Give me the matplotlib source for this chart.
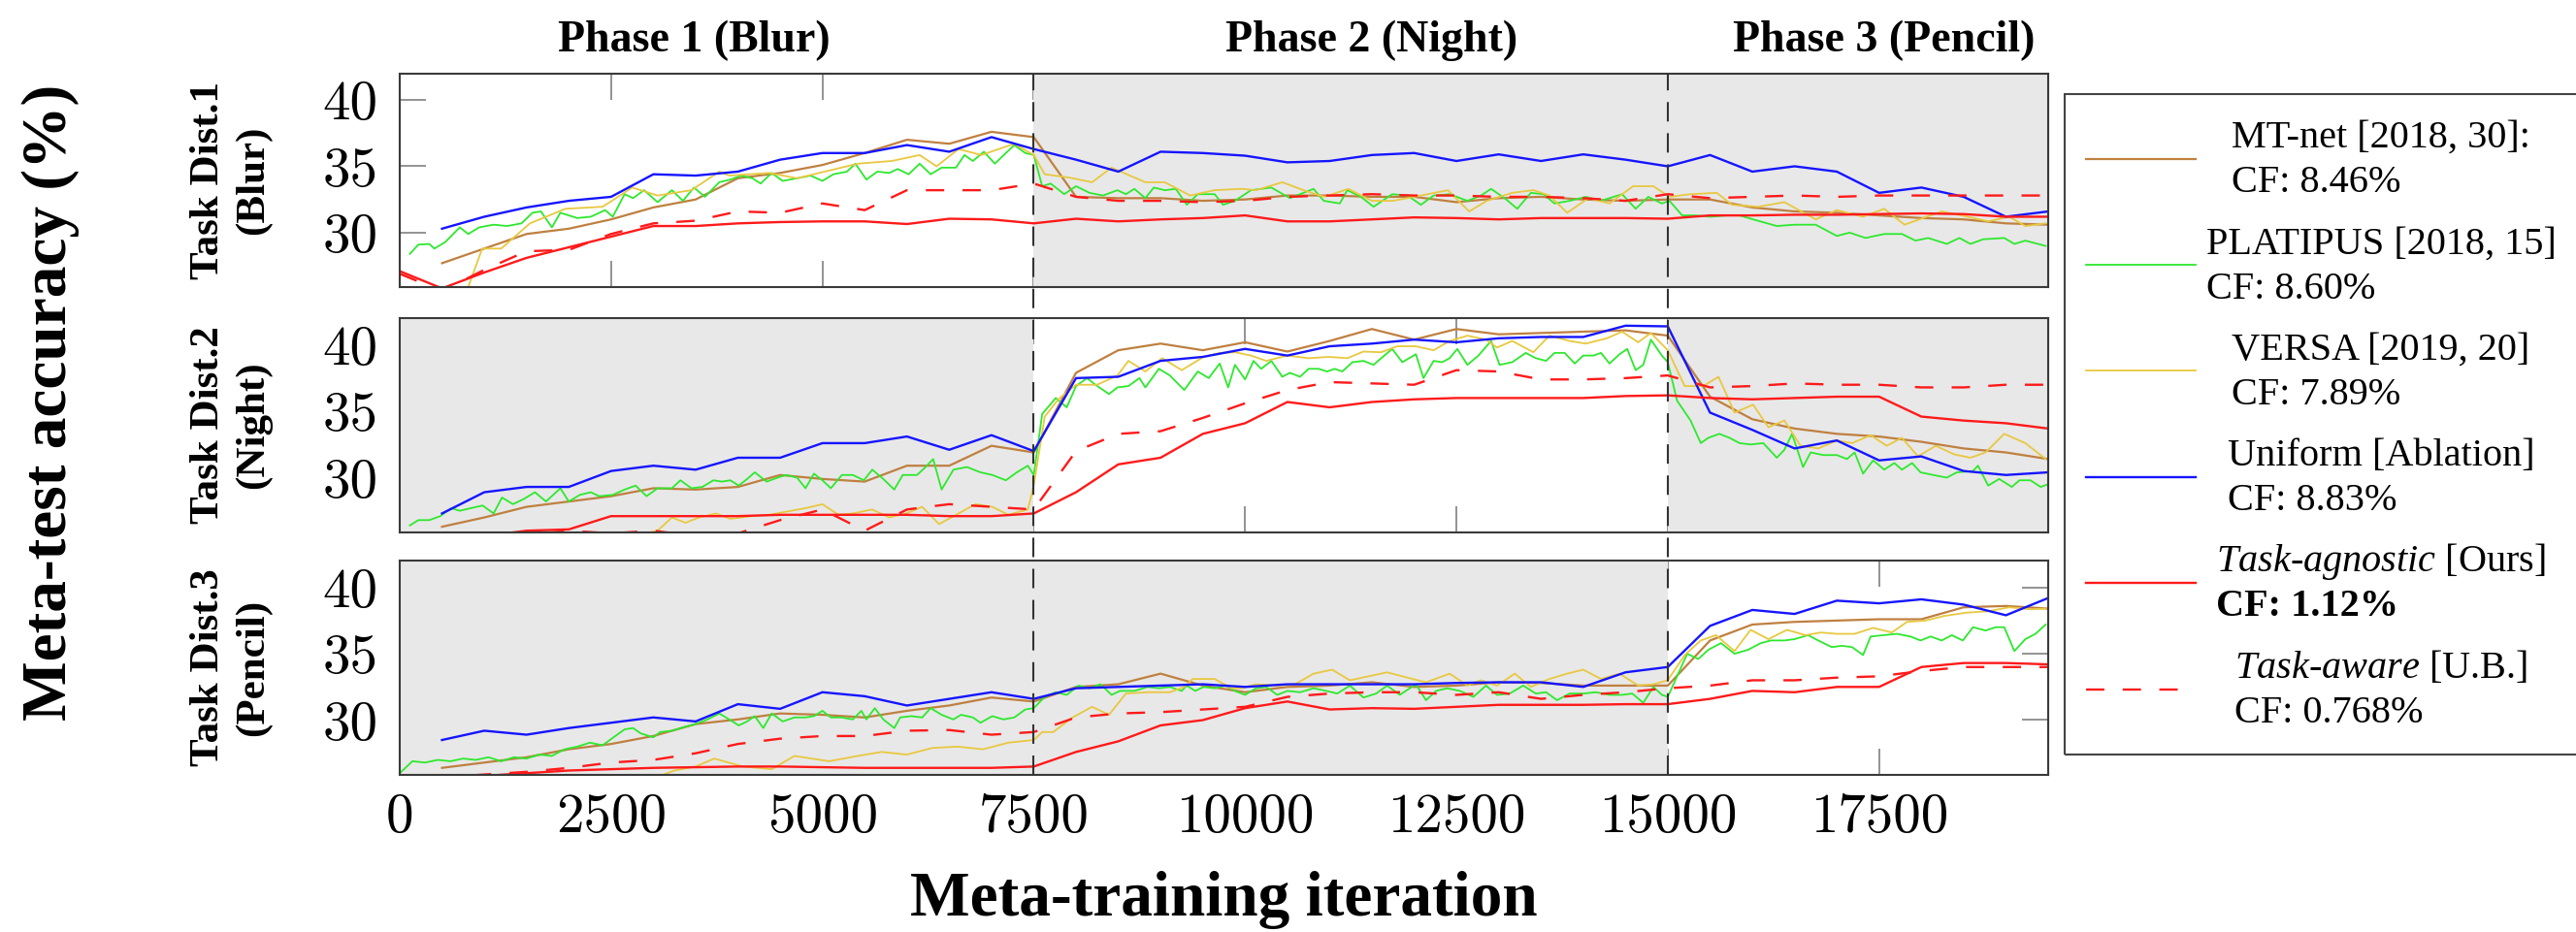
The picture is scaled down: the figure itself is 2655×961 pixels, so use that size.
import matplotlib
matplotlib.use("Agg")
import matplotlib.pyplot as plt
from matplotlib.lines import Line2D
from matplotlib.patches import Rectangle
from matplotlib.transforms import blended_transform_factory

plt.rcParams['font.family'] = ['Liberation Serif', 'DejaVu Serif']
plt.rcParams['mathtext.fontset'] = 'custom'
plt.rcParams['mathtext.rm'] = 'Liberation Serif'
plt.rcParams['mathtext.it'] = 'Liberation Serif:italic'
plt.rcParams['mathtext.bf'] = 'Liberation Serif:bold'

# ---------------- data ----------------
ITER = [500, 1000, 1500, 2000, 2500, 3000, 3500, 4000, 4500, 5000, 5500, 6000, 6500,
        7000, 7500, 8000, 8500, 9000, 9500, 10000, 10500, 11000, 11500, 12000, 12500,
        13000, 13500, 14000, 14500, 15000, 15500, 16000, 16500, 17000, 17500, 18000,
        18500, 19000, 19500]
ITER0 = [0] + ITER

PHASE_BOUNDS = [0, 7500, 15000, 19500]
PHASE_TITLES = ["Phase 1 (Blur)", "Phase 2 (Night)", "Phase 3 (Pencil)"]
PHASE_TITLE_X = [3480, 11500, 17560]
ROW_LABELS = ["Task Dist.1\n(Blur)", "Task Dist.2\n(Night)", "Task Dist.3\n(Pencil)"]
X_TICKS = [0, 2500, 5000, 7500, 10000, 12500, 15000, 17500]
Y_TICKS = [30, 35, 40]

# ---- Task Dist.1 ----
P1_UNIFORM = [30.3, 31.2, 31.9, 32.4, 32.7, 34.4, 34.3, 34.6, 35.5, 36.0, 36.0, 36.6, 36.1,
              37.2, 36.3, 35.5, 34.6, 36.1, 36.0, 35.8, 35.3, 35.4, 35.85, 36.0, 35.4,
              35.9, 35.4, 35.9, 35.5, 35.0, 35.85, 34.6, 35.0, 34.6, 33.0, 33.4, 32.7,
              31.2, 31.6]
P1_MTNET = [27.7, 28.8, 29.9, 30.3, 31.0, 31.9, 32.5, 34.1, 34.5, 35.1, 36.0, 37.0, 36.7,
            37.6, 37.2, 32.7, 32.6, 32.6, 32.4, 32.5, 32.8, 32.8, 32.7, 32.7, 32.3,
            32.6, 32.7, 32.5, 32.4, 32.5, 32.5, 31.9, 31.6, 31.5, 31.3, 31.1, 31.0,
            30.7, 30.6]
P1_AGNOSTIC = [27.1, 25.8, 27.0, 28.1, 28.9, 29.7, 30.5, 30.5, 30.7, 30.8, 30.85, 30.85, 30.65,
               31.05, 31.0, 30.7, 31.05, 30.85, 31.0, 31.1, 31.3, 30.85, 30.85, 31.0, 31.15,
               31.1, 31.0, 31.1, 31.1, 31.1, 31.05, 31.3, 31.3, 31.35, 31.35, 31.4, 31.45,
               31.4, 31.2, 31.2]
P1_AWARE = [26.9, 25.6, 27.2, 28.6, 28.7, 29.9, 30.7, 30.9, 31.6, 31.5, 32.2, 31.7, 33.2,
            33.2, 33.2, 33.7, 32.7, 32.4, 32.4, 32.3, 32.4, 32.7, 32.8, 32.9, 32.8,
            32.8, 32.7, 32.7, 32.6, 32.4, 32.9, 32.6, 32.7, 32.8, 32.7, 32.8, 32.8,
            32.8, 32.8, 32.8]
P1_VERSA = [(810, 25.9), (975, 28.8), (1200, 28.8), (1540, 30.7), (1960, 31.8), (2400, 31.95),
            (2750, 33.4), (3050, 32.8), (3450, 33.2), (3780, 34.6), (3900, 34.3), (4370, 34.5),
            (4700, 34.1), (4960, 34.5), (5420, 35.2), (5820, 35.4), (6150, 35.85), (6350, 35.0),
            (6610, 36.3), (6880, 35.85), (7270, 36.7), (7500, 35.85), (7630, 34.4), (7920, 34.15),
            (8190, 33.8), (8420, 34.9), (8820, 33.8), (9050, 33.8), (9350, 32.8), (9640, 33.2),
            (9960, 33.3), (10130, 33.2), (10440, 33.8), (10690, 33.2), (10940, 32.7), (11220, 33.3),
            (11500, 32.4), (11750, 32.4), (12000, 32.7), (12400, 33.2), (12650, 31.6), (12860, 32.4),
            (13160, 33.0), (13410, 33.2), (13600, 32.8), (13810, 31.5), (14060, 32.6), (14310, 32.2),
            (14590, 33.5), (14830, 33.5), (15020, 32.7), (15270, 32.9), (15580, 33.0), (15760, 32.1),
            (16070, 31.95), (16380, 32.3), (16750, 31.0), (17000, 31.7), (17310, 31.2), (17560, 31.8),
            (17800, 30.6), (18240, 31.6), (18550, 31.2), (18790, 30.85), (19040, 31.2), (19230, 30.5),
            (19470, 30.7)]
P1_PLATIPUS = [(120, 28.4), (220, 29.1), (350, 29.15), (410, 28.8), (540, 29.3), (710, 30.4),
               (810, 29.9), (940, 30.4), (1110, 30.6), (1270, 30.5), (1440, 30.7), (1570, 31.5),
               (1670, 31.6), (1800, 30.4), (1900, 31.5), (2100, 31.1), (2260, 31.2), (2430, 31.7),
               (2520, 31.2), (2660, 32.9), (2760, 32.6), (2890, 33.2), (3050, 32.3), (3220, 33.2),
               (3350, 32.4), (3480, 33.4), (3610, 32.7), (3780, 33.8), (3910, 34.0), (4040, 34.3),
               (4170, 34.1), (4270, 33.7), (4400, 34.5), (4530, 33.9), (4700, 34.1), (4860, 34.3),
               (5000, 33.9), (5130, 34.4), (5290, 34.6), (5390, 35.2), (5520, 34.0), (5650, 34.6),
               (5790, 34.5), (5890, 34.8), (6020, 34.4), (6150, 35.2), (6280, 34.4), (6410, 34.9),
               (6580, 34.9), (6680, 35.85), (6780, 35.4), (6910, 36.1), (7040, 35.2), (7170, 36.0),
               (7270, 36.6), (7400, 36.0), (7500, 35.85), (7600, 33.5), (7700, 33.7), (7860, 32.9),
               (8000, 33.5), (8160, 33.0), (8320, 32.8), (8490, 33.2), (8590, 32.9), (8690, 33.3),
               (8820, 32.6), (8920, 33.4), (9050, 33.2), (9180, 33.3), (9310, 32.1), (9440, 32.9),
               (9640, 32.9), (9740, 32.1), (9880, 32.4), (10070, 33.2), (10310, 33.4), (10530, 32.6),
               (10810, 33.3), (10930, 32.4), (11120, 32.2), (11210, 33.2), (11370, 32.7), (11520, 31.95),
               (11740, 32.9), (11920, 32.8), (12080, 32.1), (12230, 32.8), (12420, 32.9), (12630, 32.4),
               (12790, 32.8), (12910, 33.3), (13070, 32.6), (13220, 31.8), (13380, 33.0), (13530, 32.9),
               (13660, 32.2), (13840, 32.4), (14030, 32.7), (14210, 32.4), (14460, 32.9), (14620, 31.8),
               (14770, 32.7), (14930, 32.2), (15020, 32.4), (15170, 31.3), (15330, 31.3), (15510, 31.2),
               (15700, 31.3), (15850, 31.3), (16010, 31.0), (16290, 30.5), (16500, 30.6), (16750, 30.6),
               (17000, 29.75), (17150, 30.0), (17340, 29.6), (17560, 29.9), (17770, 29.9), (17930, 29.4),
               (18080, 29.6), (18300, 29.15), (18450, 29.6), (18580, 29.15), (18730, 29.5), (18980, 29.6),
               (19100, 29.15), (19230, 29.4), (19470, 29.0)]

# ---- Task Dist.2 ----
P2_UNIFORM = [27.3, 28.9, 29.3, 29.3, 30.5, 30.9, 30.6, 31.5, 31.5, 32.6, 32.6, 33.1, 32.1,
              33.2, 32.0, 37.5, 37.6, 38.8, 39.1, 39.7, 39.2, 39.9, 40.1, 40.4, 40.2,
              40.5, 40.6, 40.6, 41.45, 41.4, 34.9, 33.6, 32.2, 32.8, 31.3, 31.6, 30.5,
              30.2, 30.4]
P2_MTNET = [26.3, 27.0, 27.8, 28.2, 28.6, 29.2, 29.1, 29.3, 30.2, 29.9, 29.7, 30.9, 30.9,
            32.4, 31.9, 37.9, 39.6, 40.1, 39.6, 40.2, 39.5, 40.3, 41.2, 40.4, 41.2,
            40.8, 40.9, 41.0, 41.1, 40.7, 36.1, 34.4, 33.7, 33.3, 33.1, 32.7, 32.2,
            31.9, 31.4]
P2_AGNOSTIC = [25.0, 25.3, 25.6, 26.0, 26.1, 27.1, 27.1, 27.1, 27.1, 27.2, 27.2, 27.2, 27.2,
               27.1, 27.1, 27.3, 28.9, 31.0, 31.5, 33.3, 34.1, 35.7, 35.3, 35.7, 35.9,
               36.0, 36.0, 36.0, 36.0, 36.15, 36.2, 36.0, 35.9, 36.0, 36.1, 36.1, 34.6,
               34.3, 34.1, 33.7]
P2_AWARE = [25.0, 25.2, 25.4, 25.7, 26.0, 25.8, 26.0, 25.6, 25.8, 26.8, 27.6, 26.0, 27.6,
            28.0, 27.8, 27.6, 32.0, 33.3, 33.5, 34.5, 35.6, 36.6, 37.2, 37.1, 37.0,
            38.1, 38.0, 37.4, 37.4, 37.5, 37.7, 36.8, 36.9, 37.1, 37.0, 37.0, 36.8,
            36.8, 37.0, 37.0]
P2_VERSA = [(1000, 24.5), (1500, 25.0), (2000, 25.3), (2500, 25.6), (2900, 25.8), (3050, 26.0),
            (3220, 27.0), (3380, 26.6), (3540, 27.0), (3740, 27.3), (3910, 26.9), (4170, 27.1),
            (4370, 27.2), (4630, 27.5), (4800, 27.7), (5000, 28.0), (5190, 27.2), (5360, 27.3),
            (5590, 27.6), (5790, 27.0), (5990, 27.3), (6180, 27.8), (6380, 26.5), (6610, 27.3),
            (6810, 28.0), (7010, 27.8), (7200, 27.2), (7430, 27.6), (7500, 29.4), (7630, 34.6),
            (7790, 35.9), (8000, 37.0), (8250, 37.0), (8490, 37.7), (8620, 38.8), (8820, 38.0),
            (9020, 39.0), (9250, 38.1), (9510, 39.1), (9700, 39.4), (9880, 39.45), (10070, 39.2),
            (10250, 38.8), (10500, 39.2), (10750, 39.0), (10990, 39.1), (11210, 39.0), (11400, 39.5),
            (11610, 39.45), (11800, 39.9), (12020, 39.9), (12230, 39.6), (12420, 40.3), (12630, 40.7),
            (12850, 40.4), (12980, 39.8), (13160, 40.3), (13410, 39.45), (13600, 40.7), (13840, 40.3),
            (14030, 40.1), (14280, 40.5), (14460, 41.0), (14650, 40.2), (14800, 40.9), (15000, 39.6),
            (15200, 36.9), (15420, 36.9), (15600, 37.6), (15790, 34.9), (16010, 35.5), (16190, 33.8),
            (16380, 34.3), (16570, 32.4), (16780, 32.2), (17000, 32.8), (17180, 32.6), (17400, 33.2),
            (17590, 32.4), (17770, 33.0), (17960, 31.6), (18170, 32.4), (18390, 31.75), (18580, 31.5),
            (18760, 31.9), (18980, 33.3), (19230, 32.6), (19470, 31.4)]
P2_PLATIPUS = [(120, 26.4), (220, 26.8), (350, 26.8), (480, 27.1), (610, 27.7), (710, 27.5),
               (840, 27.7), (980, 27.9), (1110, 27.3), (1210, 28.5), (1340, 28.0), (1470, 28.4),
               (1600, 28.9), (1730, 28.2), (1900, 29.2), (2000, 28.2), (2130, 28.7), (2260, 28.9),
               (2360, 28.6), (2520, 28.7), (2660, 29.1), (2790, 29.4), (2920, 28.6), (3050, 29.2),
               (3220, 29.2), (3320, 29.8), (3450, 29.2), (3580, 29.3), (3710, 29.8), (3810, 29.7),
               (3910, 29.8), (4010, 29.4), (4110, 29.9), (4200, 30.4), (4340, 29.7), (4470, 30.0),
               (4570, 30.2), (4700, 30.0), (4800, 29.2), (4900, 30.3), (5000, 29.8), (5100, 29.2),
               (5230, 30.2), (5360, 30.2), (5490, 29.8), (5590, 30.6), (5720, 29.9), (5850, 29.1),
               (5950, 30.2), (6120, 30.2), (6220, 30.8), (6310, 31.4), (6410, 29.1), (6550, 30.6),
               (6710, 30.8), (6870, 30.4), (7010, 30.2), (7170, 29.8), (7300, 30.4), (7430, 30.9),
               (7500, 30.2), (7600, 34.8), (7760, 36.0), (7890, 35.3), (8000, 36.9), (8130, 37.5),
               (8230, 37.0), (8390, 36.3), (8490, 36.8), (8620, 36.9), (8750, 37.5), (8820, 36.8),
               (8980, 38.2), (9110, 37.7), (9280, 36.6), (9440, 38.0), (9570, 37.5), (9700, 38.6),
               (9800, 36.8), (9880, 38.5), (10000, 37.4), (10100, 38.8), (10190, 38.2), (10310, 38.8),
               (10440, 37.6), (10530, 37.9), (10650, 37.6), (10750, 38.2), (10870, 38.2), (10970, 38.0),
               (11060, 38.2), (11150, 38.0), (11270, 38.7), (11400, 38.8), (11520, 38.5), (11610, 39.0),
               (11740, 39.7), (11860, 38.7), (12020, 39.3), (12110, 37.5), (12230, 38.8), (12330, 38.7),
               (12420, 39.0), (12510, 39.7), (12630, 38.5), (12760, 39.2), (12910, 40.3), (13010, 38.5),
               (13160, 38.7), (13320, 39.4), (13440, 39.0), (13560, 38.8), (13660, 39.4), (13780, 39.4),
               (13900, 38.6), (14000, 39.2), (14120, 39.2), (14210, 39.4), (14310, 38.6), (14430, 39.3),
               (14520, 39.7), (14620, 38.1), (14710, 38.5), (14800, 40.4), (14930, 39.2), (15000, 38.7),
               (15110, 35.8), (15270, 34.3), (15390, 32.6), (15480, 33.0), (15610, 33.3), (15730, 33.0),
               (15850, 32.6), (15980, 32.5), (16130, 32.6), (16290, 31.5), (16380, 32.1), (16470, 33.3),
               (16600, 30.8), (16690, 31.9), (16840, 31.7), (17000, 31.7), (17120, 31.4), (17210, 31.9),
               (17310, 30.3), (17430, 31.3), (17560, 30.6), (17680, 31.1), (17770, 30.6), (17890, 31.1),
               (17990, 30.4), (18140, 30.2), (18300, 30.0), (18420, 30.4), (18610, 30.5), (18670, 30.9),
               (18790, 29.4), (18920, 29.9), (19070, 29.3), (19160, 29.8), (19290, 29.8), (19410, 29.3),
               (19500, 29.5)]

# ---- Task Dist.3 ----
P3_UNIFORM = [28.5, 29.2, 28.9, 29.4, 29.8, 30.2, 29.9, 31.2, 30.85, 32.1, 31.8, 31.1, 31.6,
              32.1, 31.6, 32.4, 32.5, 32.6, 32.7, 32.5, 32.7, 32.7, 32.7, 32.7, 32.8,
              32.85, 32.85, 32.5, 33.6, 34.0, 37.1, 38.3, 38.0, 39.0, 38.8, 39.1, 38.7,
              37.9, 39.2]
P3_MTNET = [26.4, 26.8, 27.2, 27.8, 28.2, 28.8, 29.7, 30.05, 30.5, 30.4, 30.2, 30.7, 31.1,
            31.7, 31.4, 32.5, 32.7, 33.5, 32.6, 32.1, 32.5, 32.6, 32.85, 32.5, 32.6,
            32.85, 32.8, 32.6, 32.6, 32.6, 36.0, 37.2, 37.4, 37.5, 37.6, 37.6, 38.5,
            38.6, 38.4]
P3_AGNOSTIC = [25.5, 25.6, 25.8, 26.0, 26.2, 26.3, 26.4, 26.45, 26.5, 26.5, 26.45, 26.4, 26.4,
               26.4, 26.4, 26.5, 27.6, 28.4, 29.6, 30.0, 30.9, 31.4, 30.8, 30.9, 30.85,
               31.0, 31.15, 31.15, 31.15, 31.2, 31.2, 31.6, 32.2, 32.1, 32.5, 32.5, 34.0,
               34.3, 34.3, 34.2]
P3_AWARE = [25.5, 25.7, 25.9, 26.1, 26.4, 26.8, 27.0, 27.5, 28.2, 28.6, 28.8, 28.8, 29.2,
            29.25, 28.9, 29.1, 30.2, 30.5, 30.6, 30.8, 31.0, 31.75, 32.0, 32.1, 32.1,
            31.9, 32.1, 31.6, 31.9, 32.1, 32.4, 32.6, 33.0, 33.0, 33.2, 33.3, 33.7,
            34.0, 34.0, 34.0]
P3_VERSA = [(3000, 25.6), (3250, 26.2), (3500, 26.5), (3720, 27.1), (4060, 26.5), (4400, 26.3),
            (4670, 27.3), (5080, 26.9), (5420, 27.3), (5700, 27.6), (6000, 27.4), (6300, 27.9),
            (6600, 28.0), (6900, 27.8), (7200, 28.3), (7500, 28.5), (7600, 29.1), (7730, 29.1),
            (7960, 30.2), (8190, 31.0), (8390, 30.4), (8590, 32.0), (8850, 32.1), (9110, 32.1),
            (9280, 32.5), (9380, 33.1), (9640, 33.1), (9840, 32.4), (9960, 32.4), (10130, 32.7),
            (10380, 32.6), (10590, 32.7), (10810, 33.5), (11030, 33.8), (11240, 33.0), (11460, 33.3),
            (11680, 33.6), (11920, 33.2), (12140, 32.85), (12420, 33.5), (12630, 32.6), (12790, 33.0),
            (12980, 32.6), (13190, 33.5), (13380, 32.5), (13600, 33.1), (13810, 33.5), (14000, 33.8),
            (14210, 33.1), (14430, 33.5), (14650, 32.6), (14830, 32.7), (15000, 33.0), (15200, 34.9),
            (15390, 36.0), (15570, 36.4), (15790, 35.2), (15980, 36.8), (16190, 36.1), (16410, 36.8),
            (16630, 36.4), (16810, 36.6), (17000, 36.5), (17210, 36.5), (17430, 36.95), (17650, 36.6),
            (17830, 37.4), (18050, 37.5), (18270, 37.85), (18540, 38.1), (18790, 38.2), (19040, 38.5),
            (19290, 38.35), (19470, 38.4)]
P3_PLATIPUS = [(0, 26.0), (150, 26.9), (300, 26.8), (450, 27.0), (600, 26.9), (750, 27.1),
               (900, 27.0), (1050, 27.2), (1200, 26.9), (1350, 27.2), (1500, 27.1), (1650, 27.4),
               (1800, 27.3), (1950, 27.8), (2100, 28.0), (2250, 28.3), (2400, 28.1), (2550, 28.8),
               (2660, 29.3), (2760, 29.4), (2850, 29.0), (3000, 28.7), (3080, 29.1), (3220, 29.2),
               (3380, 29.5), (3500, 29.7), (3640, 30.05), (3780, 30.5), (3910, 30.0), (4010, 29.6),
               (4110, 29.9), (4200, 30.3), (4300, 29.4), (4400, 30.5), (4530, 29.9), (4670, 30.2),
               (4800, 30.2), (4900, 30.3), (5000, 30.7), (5100, 30.2), (5230, 30.2), (5360, 30.05),
               (5460, 30.7), (5520, 30.05), (5620, 30.9), (5720, 30.05), (5850, 29.4), (5920, 30.2),
               (6050, 30.3), (6180, 30.2), (6280, 30.9), (6410, 30.4), (6550, 30.05), (6640, 30.4),
               (6780, 30.2), (6870, 29.8), (7010, 30.3), (7140, 30.05), (7270, 30.2), (7400, 30.8),
               (7500, 30.9), (7630, 31.75), (7760, 32.1), (7890, 31.9), (8030, 32.6), (8160, 32.4),
               (8290, 32.7), (8420, 31.9), (8520, 32.2), (8690, 32.2), (8850, 32.5), (8980, 32.4),
               (9110, 32.5), (9250, 32.2), (9310, 32.6), (9410, 32.2), (9510, 32.5), (9640, 32.4),
               (9770, 32.6), (9880, 32.2), (10000, 31.9), (10130, 32.4), (10250, 32.5), (10380, 31.9),
               (10500, 32.2), (10650, 32.1), (10810, 32.4), (10960, 32.2), (11090, 32.0), (11240, 32.6),
               (11400, 31.7), (11550, 32.0), (11680, 32.6), (11830, 31.9), (12020, 32.7), (12140, 31.5),
               (12260, 32.2), (12390, 32.4), (12540, 32.2), (12700, 31.75), (12850, 32.6), (12980, 31.9),
               (13130, 32.0), (13290, 32.6), (13440, 32.0), (13560, 32.1), (13690, 31.5), (13840, 32.0),
               (14000, 32.0), (14150, 32.1), (14310, 31.9), (14460, 31.9), (14580, 32.0), (14710, 31.3),
               (14830, 32.5), (14930, 31.9), (15000, 31.75), (15110, 33.3), (15230, 35.0), (15360, 34.6),
               (15480, 35.3), (15630, 35.8), (15790, 35.0), (15950, 35.3), (16100, 35.8), (16220, 36.0),
               (16380, 36.0), (16500, 36.1), (16660, 36.4), (16780, 36.0), (16940, 35.5), (17060, 35.6),
               (17180, 35.5), (17310, 34.9), (17400, 36.3), (17560, 36.4), (17710, 36.5), (17870, 36.3),
               (17990, 36.0), (18110, 36.3), (18240, 36.0), (18360, 36.4), (18490, 36.0), (18610, 37.0),
               (18760, 36.75), (18880, 37.0), (18980, 37.0), (19100, 35.2), (19230, 36.1), (19350, 36.5),
               (19470, 37.2)]

MTNET = [P1_MTNET, P2_MTNET, P3_MTNET]
PLATIPUS = [P1_PLATIPUS, P2_PLATIPUS, P3_PLATIPUS]
VERSA = [P1_VERSA, P2_VERSA, P3_VERSA]
UNIFORM = [P1_UNIFORM, P2_UNIFORM, P3_UNIFORM]
AGNOSTIC = [P1_AGNOSTIC, P2_AGNOSTIC, P3_AGNOSTIC]
AWARE = [P1_AWARE, P2_AWARE, P3_AWARE]

LEGEND_LINE1 = ["MT-net [2018, 30]:", "PLATIPUS [2018, 15]", "VERSA [2019, 20]",
                "Uniform [Ablation]", r"$\mathit{Task}$-$\mathit{agnostic}$ [Ours]",
                r"$\mathit{Task}$-$\mathit{aware}$ [U.B.]"]
LEGEND_LINE2 = ["CF: 8.46%", "CF: 8.60%", "CF: 7.89%", "CF: 8.83%", "CF: 1.12%", "CF: 0.768%"]
LEGEND_BOLD2 = [False, False, False, False, True, False]

# ---------------- style ----------------
C_BROWN = '#bf8040'
C_GREEN = '#2ee82e'
C_YELLOW = '#e8c840'
C_BLUE = '#1515ff'
C_RED = '#ff1a1a'
GREY_BG = '#e8e8e8'

STYLES = [
    dict(color=C_BROWN, lw=1.6, ls='-'),
    dict(color=C_GREEN, lw=1.3, ls='-'),
    dict(color=C_YELLOW, lw=1.3, ls='-'),
    dict(color=C_BLUE, lw=1.7, ls='-'),
    dict(color=C_RED, lw=1.7, ls='-'),
    dict(color=C_RED, lw=1.7, ls=(0, (8, 8))),
]

W, H = 2655, 961
fig = plt.figure(figsize=(W / 100, H / 100), dpi=100)

AX_LEFT = 412 / W
AX_W = (2111 - 412) / W
PANEL_TOP_PX = [75.7, 328.3, 578.3]
PANEL_H_PX = 220.3

axes = []
for i in range(3):
    bottom = 1 - (PANEL_TOP_PX[i] + PANEL_H_PX) / H
    ax = fig.add_axes([AX_LEFT, bottom, AX_W, PANEL_H_PX / H])
    axes.append(ax)
    ax.set_xlim(0, 19500)
    ax.set_ylim(25.9, 42.0)
    ax.set_axisbelow(True)
    for p in range(3):
        if p != i:
            ax.axvspan(PHASE_BOUNDS[p], PHASE_BOUNDS[p + 1], color=GREY_BG, lw=0, zorder=1)

    series = [
        (ITER, MTNET[i]),
        ([p[0] for p in PLATIPUS[i]], [p[1] for p in PLATIPUS[i]]),
        ([p[0] for p in VERSA[i]], [p[1] for p in VERSA[i]]),
        (ITER, UNIFORM[i]),
        (ITER0, AGNOSTIC[i]),
        (ITER0, AWARE[i]),
    ]
    for (xs, ys), st in zip(series, STYLES):
        ax.plot(xs, ys, color=st['color'], lw=st['lw'], ls=st['ls'], zorder=2,
                solid_joinstyle='round')

    ax.tick_params(direction='in', length=19.5, width=1.2, color='#808080',
                   top=True, right=True, pad=16)
    ax.set_yticks(Y_TICKS, labels=[str(v) for v in Y_TICKS], fontsize=41, family='cmr10')
    if i == 2:
        ax.set_xticks(X_TICKS, labels=[str(v) for v in X_TICKS], fontsize=41, family='cmr10')
        ax.tick_params(axis='x', pad=14)
    else:
        ax.set_xticks(X_TICKS, labels=[])
    for s in ax.spines.values():
        s.set_color('#3a3a3a')
        s.set_linewidth(1.5)
        s.set_zorder(3)

    yc = 1 - (PANEL_TOP_PX[i] + PANEL_H_PX / 2) / H
    fig.text(238 / W, yc, ROW_LABELS[i], rotation=90, ha='center', va='center',
             multialignment='center', fontsize=31, fontweight='bold', linespacing=1.25)

# dashed phase boundaries across the panels
top_f = 1 - PANEL_TOP_PX[0] / H
bot_f = 1 - (PANEL_TOP_PX[2] + PANEL_H_PX) / H
btr = blended_transform_factory(axes[0].transData, fig.transFigure)
for xb in PHASE_BOUNDS[1:3]:
    fig.add_artist(Line2D([xb, xb], [bot_f, top_f], transform=btr, color='#333333',
                          lw=1.5, ls=(0, (9.6, 5.8)), zorder=5))

# phase titles
for t, xp in zip(PHASE_TITLES, PHASE_TITLE_X):
    fig.text(xp, 1 - 42 / H, t, transform=btr, ha='center', va='center',
             fontsize=33, fontweight='bold')

# axis labels
fig.text(AX_LEFT + AX_W / 2, 1 - 928 / H, 'Meta-training iteration', ha='center',
         va='center', fontsize=47, fontweight='bold')
fig.text(52 / W, 1 - 415 / H, 'Meta-test accuracy (%)', rotation=90, ha='center',
         va='center', fontsize=47, fontweight='bold')

# legend (manual, pgfplots style)
LEG_BOX = (2128, 96.5, 2700, 778)
fig.add_artist(Rectangle((LEG_BOX[0] / W, 1 - LEG_BOX[3] / H),
                         (LEG_BOX[2] - LEG_BOX[0]) / W, (LEG_BOX[3] - LEG_BOX[1]) / H,
                         transform=fig.transFigure, fill=False, edgecolor='#444444',
                         lw=1.5, clip_on=False, zorder=6))
HANDLE_Y = [163.6, 273.3, 382.4, 492.1, 600.8, 710.5]
TEXT_CX = 2454
renderer = fig.canvas.get_renderer()
for k in range(6):
    st = STYLES[k]
    yf = 1 - HANDLE_Y[k] / H
    fig.add_artist(Line2D([2150 / W, 2263 / W], [yf, yf], transform=fig.transFigure,
                          color=st['color'], lw=st['lw'], ls=st['ls'], zorder=6))
    t1 = fig.text(0, 1 - (HANDLE_Y[k] - 11.8) / H, LEGEND_LINE1[k], fontsize=29,
                  va='baseline', ha='left', zorder=6)
    t2 = fig.text(0, 1 - (HANDLE_Y[k] + 34.2) / H, LEGEND_LINE2[k], fontsize=29,
                  va='baseline', ha='left', zorder=6,
                  fontweight='bold' if LEGEND_BOLD2[k] else 'normal')
    w = max(t1.get_window_extent(renderer).width, t2.get_window_extent(renderer).width)
    left = (TEXT_CX - w / 2) / W
    t1.set_x(left)
    t2.set_x(left)

fig.savefig('out.png', dpi=100)
